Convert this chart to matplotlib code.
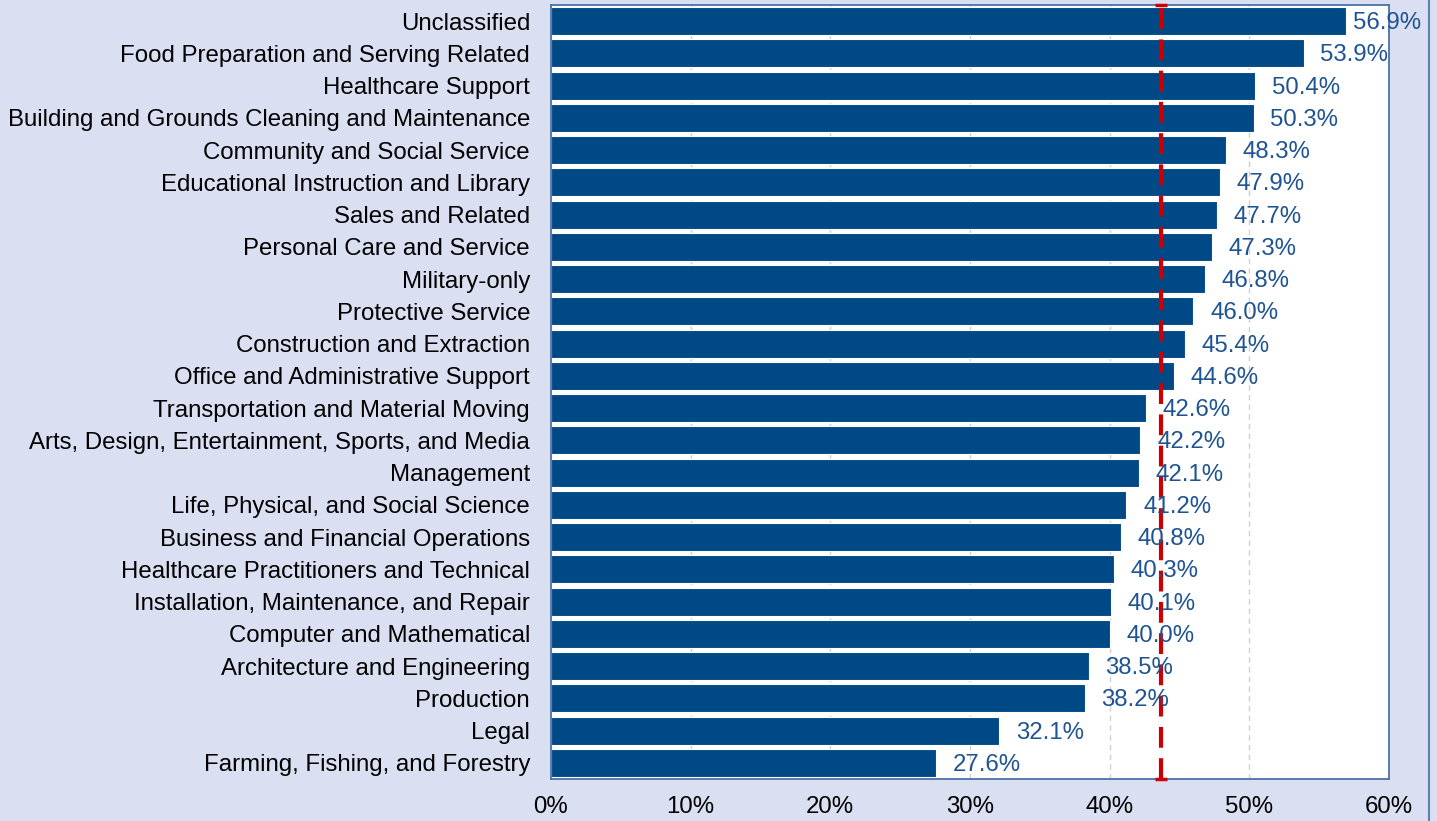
import matplotlib
matplotlib.use('Agg')
import matplotlib.pyplot as plt
from matplotlib.lines import Line2D

plt.rcParams['font.family'] = ['Liberation Sans', 'DejaVu Sans']

occupations = [
    'Unclassified',
    'Food Preparation and Serving Related',
    'Healthcare Support',
    'Building and Grounds Cleaning and Maintenance',
    'Community and Social Service',
    'Educational Instruction and Library',
    'Sales and Related',
    'Personal Care and Service',
    'Military-only',
    'Protective Service',
    'Construction and Extraction',
    'Office and Administrative Support',
    'Transportation and Material Moving',
    'Arts, Design, Entertainment, Sports, and Media',
    'Management',
    'Life, Physical, and Social Science',
    'Business and Financial Operations',
    'Healthcare Practitioners and Technical',
    'Installation, Maintenance, and Repair',
    'Computer and Mathematical',
    'Architecture and Engineering',
    'Production',
    'Legal',
    'Farming, Fishing, and Forestry',
]
shares = [56.9, 53.9, 50.4, 50.3, 48.3, 47.9, 47.7, 47.3, 46.8, 46.0, 45.4, 44.6,
          42.6, 42.2, 42.1, 41.2, 40.8, 40.3, 40.1, 40.0, 38.5, 38.2, 32.1, 27.6]
average = 43.7
xticks = [0, 10, 20, 30, 40, 50, 60]

bg = '#dae0f2'
bar_col = '#004987'
lab_col = '#1f5493'
fs = 17.3

fig = plt.figure(figsize=(14.37, 8.21), dpi=100, facecolor=bg)
ax = fig.add_axes([0.3834, 0.0512, 0.5832, 0.9427])
ax.set_facecolor('white')

y = list(range(len(occupations)))
ax.barh(y, shares, height=0.87, color=bar_col, edgecolor='white', linewidth=0.8, zorder=2)
for yi, v in zip(y, shares):
    # the longest label is pulled in so it stays inside the figure
    off = 5 if v > 55 else 12
    ax.annotate(f'{v:.1f}%', (v, yi), xytext=(off, -1.5), textcoords='offset points',
                va='center', ha='left', fontsize=fs, color=lab_col, zorder=4,
                annotation_clip=False)

ax.axvline(average, color='#cc0000', lw=3, ls=(0, (5, 2.5)), zorder=3)
ax.plot([average, average], [len(occupations) - 0.5, -0.5], ls='none', marker='_',
        ms=8, mew=2.5, color='#cc0000', zorder=3, clip_on=False)

ax.set_xlim(0, 60)
ax.set_ylim(len(occupations) - 0.5, -0.5)
ax.set_yticks(y)
ax.set_yticklabels(occupations, fontsize=fs)
ax.set_xticks(xticks)
ax.set_xticklabels([f'{t}%' for t in xticks], fontsize=fs)
ax.tick_params(length=0)
ax.tick_params(axis='y', pad=15)
ax.tick_params(axis='x', pad=12.5)
ax.grid(axis='x', color='#d0d0d0', ls=(0, (4, 3)), lw=1, zorder=0)
for s in ax.spines.values():
    s.set_color('#4a72a8')
    s.set_linewidth(1.3)

fig.add_artist(Line2D([0.9944, 0.9944], [0, 1], transform=fig.transFigure,
                      color='#5b80b2', lw=1.5))

fig.savefig('out.png', dpi=100, facecolor=bg)
